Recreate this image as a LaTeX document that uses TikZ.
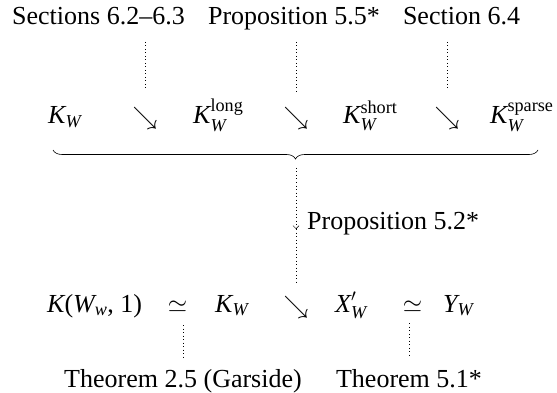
\documentclass[tikz,border=0pt]{standalone}
\usepackage{amsmath}
\usepackage{fontspec}
\setmainfont{Liberation Serif}
\usetikzlibrary{decorations.pathreplacing,arrows.meta}
\newcommand\mi[1]{\textit{#1}}
\begin{document}
\begin{tikzpicture}[x=1pt,y=-1pt,
  lab/.style={font=\fontsize{26}{30}\selectfont, inner sep=0pt, anchor=base},
  obj/.style={font=\fontsize{26}{30}\selectfont, inner sep=0pt, anchor=base west},
  rel/.style={font=\fontsize{31}{34}\selectfont, inner sep=0pt, anchor=base},
  dotline/.style={line width=0.5pt, dash pattern=on 0.5pt off 3pt},
  bracestyle/.style={line width=0.6pt, decorate, decoration={brace, mirror, amplitude=9pt}},
  tipstyle/.style={-{Straight Barb[length=3pt,width=6pt,line width=0.5pt]}}
]
\useasboundingbox (0,0) rectangle (557,393);
% top labels
\node[lab] (s1) at (98.5,25) {Sections 6.2--6.3};
\node[lab] (s2) at (294,25) {Proposition 5.5*};
\node[lab] (s3) at (461.5,25) {Section 6.4};
% row 1
\node[obj] (k1) at (48,124) {$\mi{K}_{\mi{W}}$};
\node[rel] (a1) at (145,125) {$\searrow$};
\node[obj] (k2) at (193,124) {$\mi{K}^{\text{long}}_{\mi{W}}$};
\node[rel] (a2) at (296,125) {$\searrow$};
\node[obj] (k3) at (343,124) {$\mi{K}^{\text{short}}_{\mi{W}}$};
\node[rel] (a3) at (447,125) {$\searrow$};
\node[obj] (k4) at (490,124) {$\mi{K}^{\text{sparse}}_{\mi{W}}$};
% dotted lines top
\coordinate (d1t) at (145,42); \coordinate (d1b) at (145,89);
\coordinate (d2t) at (296,42); \coordinate (d2b) at (296,93);
\coordinate (d3t) at (447,42); \coordinate (d3b) at (447,89);
\draw[dotline] (d1t) -- (d1b);
\draw[dotline] (d2t) -- (d2b);
\draw[dotline] (d3t) -- (d3b);
% brace
\coordinate (bl) at (53,150); \coordinate (br) at (538,150);
\draw[bracestyle] (bl) -- (br);
% vertical arrow
\coordinate (vt) at (296,168); \coordinate (vm) at (296,229); \coordinate (vb) at (296,284);
\draw[dotline, tipstyle] (vt) -- (vm);
\draw[dotline] (vm) -- (vb);
\node[lab, anchor=base west] (p52) at (307,229) {Proposition 5.2*};
% row 2
\node[obj] (m1) at (47,312) {$\mi{K}\text{(}\mi{W}_{\mi{w}}\text{, 1)}$};
\node[rel] (e1) at (177.5,312) {$\simeq$};
\node[obj] (m2) at (215,312) {$\mi{K}_{\mi{W}}$};
\node[rel] (a4) at (296,313) {$\searrow$};
\node[obj] (m3) at (335,312) {$\mi{X}'_{\mi{W}}$};
\node[rel] (e2) at (412.5,312) {$\simeq$};
\node[obj] (m4) at (443,312) {$\mi{Y}_{\mi{W}}$};
% bottom labels
\node[lab] (t25) at (183,387) {Theorem 2.5 (Garside)};
\node[lab] (t51) at (409,387) {Theorem 5.1*};
\coordinate (b1t) at (183,325); \coordinate (b1b) at (183,358);
\coordinate (b2t) at (409,323); \coordinate (b2b) at (409,355);
\draw[dotline] (b1t) -- (b1b);
\draw[dotline] (b2t) -- (b2b);
\end{tikzpicture}
\end{document}
